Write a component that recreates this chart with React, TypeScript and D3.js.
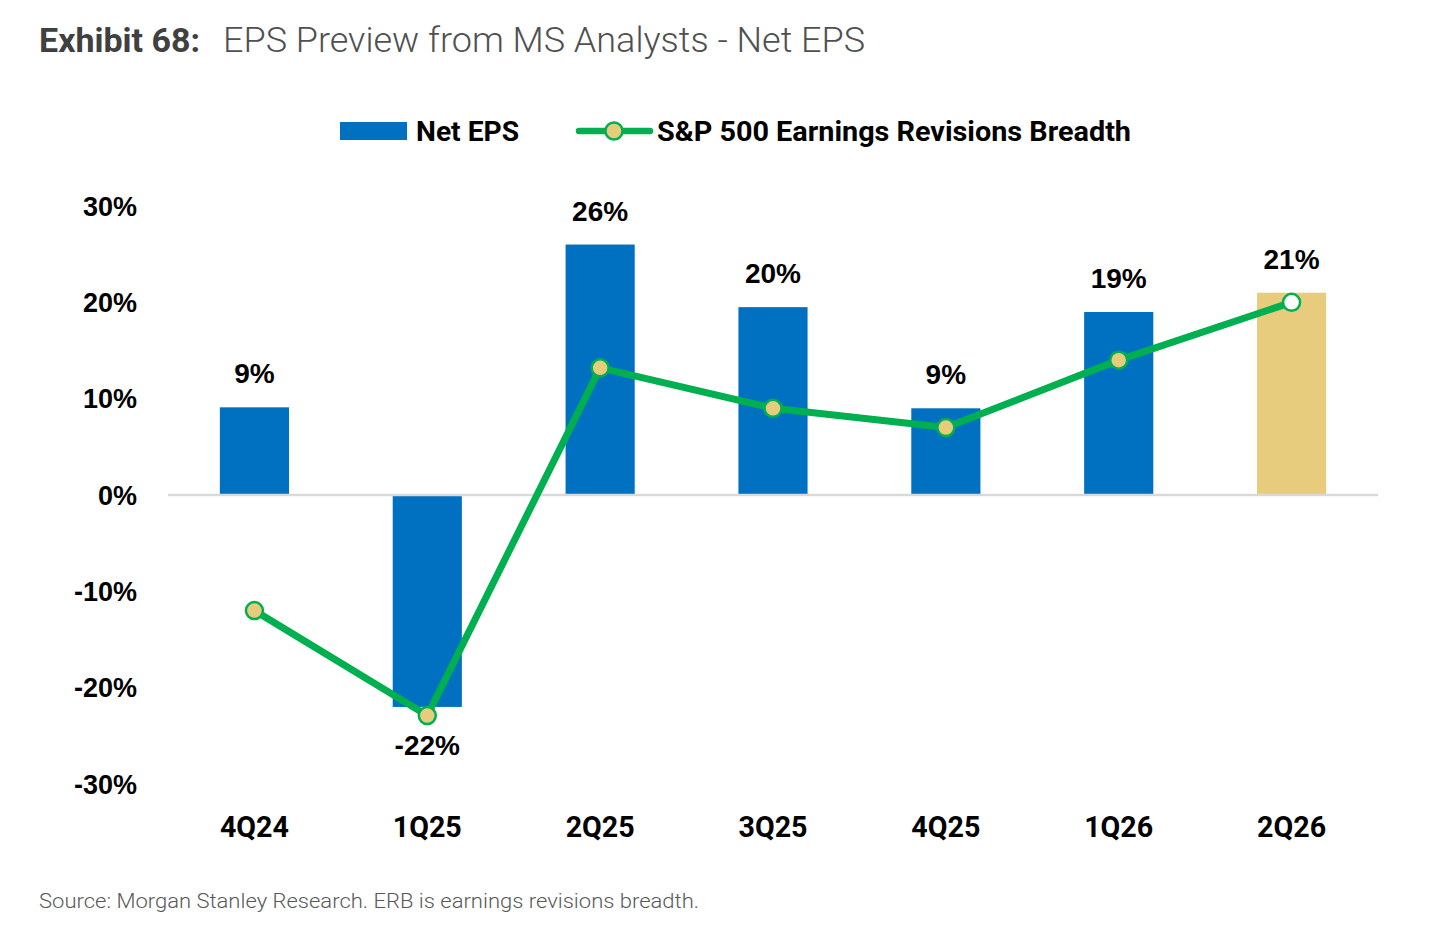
import React, { useEffect, useRef } from "react";
import * as d3 from "d3";

// chart values
const quarters = ["4Q24", "1Q25", "2Q25", "3Q25", "4Q25", "1Q26", "2Q26"];
const netEps = [0.091, -0.22, 0.26, 0.195, 0.09, 0.19, 0.21];
const epsLabels = ["9%", "-22%", "26%", "20%", "9%", "19%", "21%"];
const revisionsBreadth = [-0.12, -0.229, 0.132, 0.09, 0.07, 0.14, 0.2];
const yTicks = [-0.3, -0.2, -0.1, 0, 0.1, 0.2, 0.3];

const BLUE = "#0070C0";
const GOLD = "#E8CC7E";
const GREEN = "#00B050";

export default function App() {
    const svgRef = useRef<SVGSVGElement>(null);

    useEffect(() => {
        if (!svgRef.current) return;
        const svg = d3.select(svgRef.current);
        svg.selectAll("*").remove();

        const x = d3.scaleBand<string>()
            .domain(quarters)
            .range([168, 1378])
            .paddingInner(0.6)
            .paddingOuter(0.3);

        const y = d3.scaleLinear()
            .domain([-0.3, 0.3])
            .range([784, 206]);

        const cx = (q: string) => x(q)! + x.bandwidth() / 2;
        const pct = (v: number) => d3.format(".0%")(v).replace("\u2212", "-");

        // Title
        svg.append("text")
            .attr("x", 39)
            .attr("y", 52)
            .attr("font-family", "Roboto")
            .attr("font-size", 34)
            .attr("font-weight", 700)
            .attr("fill", "#404040")
            .text("Exhibit 68:");
        svg.append("text")
            .attr("x", 223)
            .attr("y", 52)
            .attr("font-family", "Roboto")
            .attr("font-size", 35)
            .attr("font-weight", 300)
            .attr("fill", "#505050")
            .attr("textLength", 642)
            .attr("lengthAdjust", "spacingAndGlyphs")
            .text("EPS Preview from MS Analysts - Net EPS");

        // Legend
        const legend = svg.append("g");
        legend.append("rect")
            .attr("x", 340).attr("y", 122)
            .attr("width", 67).attr("height", 18)
            .attr("fill", BLUE);
        legend.append("text")
            .attr("x", 416).attr("y", 141)
            .attr("font-family", "Roboto").attr("font-weight", 700)
            .attr("font-size", 28)
            .attr("textLength", 103).attr("lengthAdjust", "spacingAndGlyphs")
            .attr("fill", "#000")
            .text("Net EPS");
        legend.append("line")
            .attr("x1", 579).attr("x2", 650)
            .attr("y1", 131).attr("y2", 131)
            .attr("stroke", GREEN).attr("stroke-width", 6.5)
            .attr("stroke-linecap", "round");
        legend.append("circle")
            .attr("cx", 614).attr("cy", 131).attr("r", 8.5)
            .attr("fill", GOLD).attr("stroke", GREEN).attr("stroke-width", 2.5);
        legend.append("text")
            .attr("x", 657).attr("y", 141)
            .attr("font-family", "Roboto").attr("font-weight", 700)
            .attr("font-size", 28)
            .attr("textLength", 474).attr("lengthAdjust", "spacingAndGlyphs")
            .attr("fill", "#000")
            .text("S&P 500 Earnings Revisions Breadth");

        // Y axis labels
        svg.append("g")
            .selectAll("text")
            .data(yTicks)
            .join("text")
            .attr("x", 137)
            .attr("y", d => y(d))
            .attr("dy", "0.36em")
            .attr("text-anchor", "end")
            .attr("font-family", "Liberation Sans, Arial")
            .attr("font-weight", 700)
            .attr("font-size", 27)
            .attr("fill", "#000")
            .text(d => pct(d));

        // Bars
        svg.append("g")
            .selectAll("rect")
            .data(quarters)
            .join("rect")
            .attr("x", q => x(q)!)
            .attr("width", x.bandwidth())
            .attr("y", (q, i) => Math.min(y(netEps[i]), y(0)))
            .attr("height", (q, i) => Math.abs(y(netEps[i]) - y(0)))
            .attr("fill", (q, i) => (i === quarters.length - 1 ? GOLD : BLUE));

        // Zero line
        svg.append("line")
            .attr("x1", 168).attr("x2", 1378)
            .attr("y1", y(0)).attr("y2", y(0))
            .attr("stroke", "#D9D9D9").attr("stroke-width", 2.5);

        // Bar labels
        svg.append("g")
            .selectAll("text")
            .data(quarters)
            .join("text")
            .attr("x", q => cx(q))
            .attr("y", (q, i) => netEps[i] >= 0 ? y(netEps[i]) - 24 : y(netEps[i]) + 48)
            .attr("text-anchor", "middle")
            .attr("font-family", "Liberation Sans, Arial")
            .attr("font-weight", 700)
            .attr("font-size", 28)
            .attr("fill", "#000")
            .text((q, i) => epsLabels[i]);

        // Revisions breadth line
        const line = d3.line<number>()
            .x((d, i) => cx(quarters[i]))
            .y(d => y(d));

        svg.append("path")
            .datum(revisionsBreadth)
            .attr("fill", "none")
            .attr("stroke", GREEN)
            .attr("stroke-width", 7)
            .attr("stroke-linejoin", "round")
            .attr("d", line);

        svg.append("g")
            .selectAll("circle")
            .data(revisionsBreadth)
            .join("circle")
            .attr("cx", (d, i) => cx(quarters[i]))
            .attr("cy", d => y(d))
            .attr("r", 8.5)
            .attr("fill", (d, i) => (i === revisionsBreadth.length - 1 ? "#fff" : GOLD))
            .attr("stroke", GREEN)
            .attr("stroke-width", 2.5);

        // Category labels
        svg.append("g")
            .selectAll("text")
            .data(quarters)
            .join("text")
            .attr("x", q => cx(q))
            .attr("y", 837)
            .attr("text-anchor", "middle")
            .attr("font-family", "Roboto")
            .attr("font-weight", 700)
            .attr("font-size", 30)
            .attr("textLength", 69)
            .attr("lengthAdjust", "spacingAndGlyphs")
            .attr("fill", "#000")
            .text(q => q);

        // Source
        svg.append("text")
            .attr("x", 39)
            .attr("y", 908)
            .attr("font-family", "Roboto")
            .attr("font-weight", 300)
            .attr("font-size", 21)
            .attr("fill", "#595959")
            .attr("textLength", 660)
            .attr("lengthAdjust", "spacingAndGlyphs")
            .text("Source: Morgan Stanley Research. ERB is earnings revisions breadth.");
    }, []);

    return (
        <div style={{ position: "absolute", left: 0, top: 0, background: "#fff" }}>
            <svg ref={svgRef} width={1440} height={941} />
        </div>
    );
}
